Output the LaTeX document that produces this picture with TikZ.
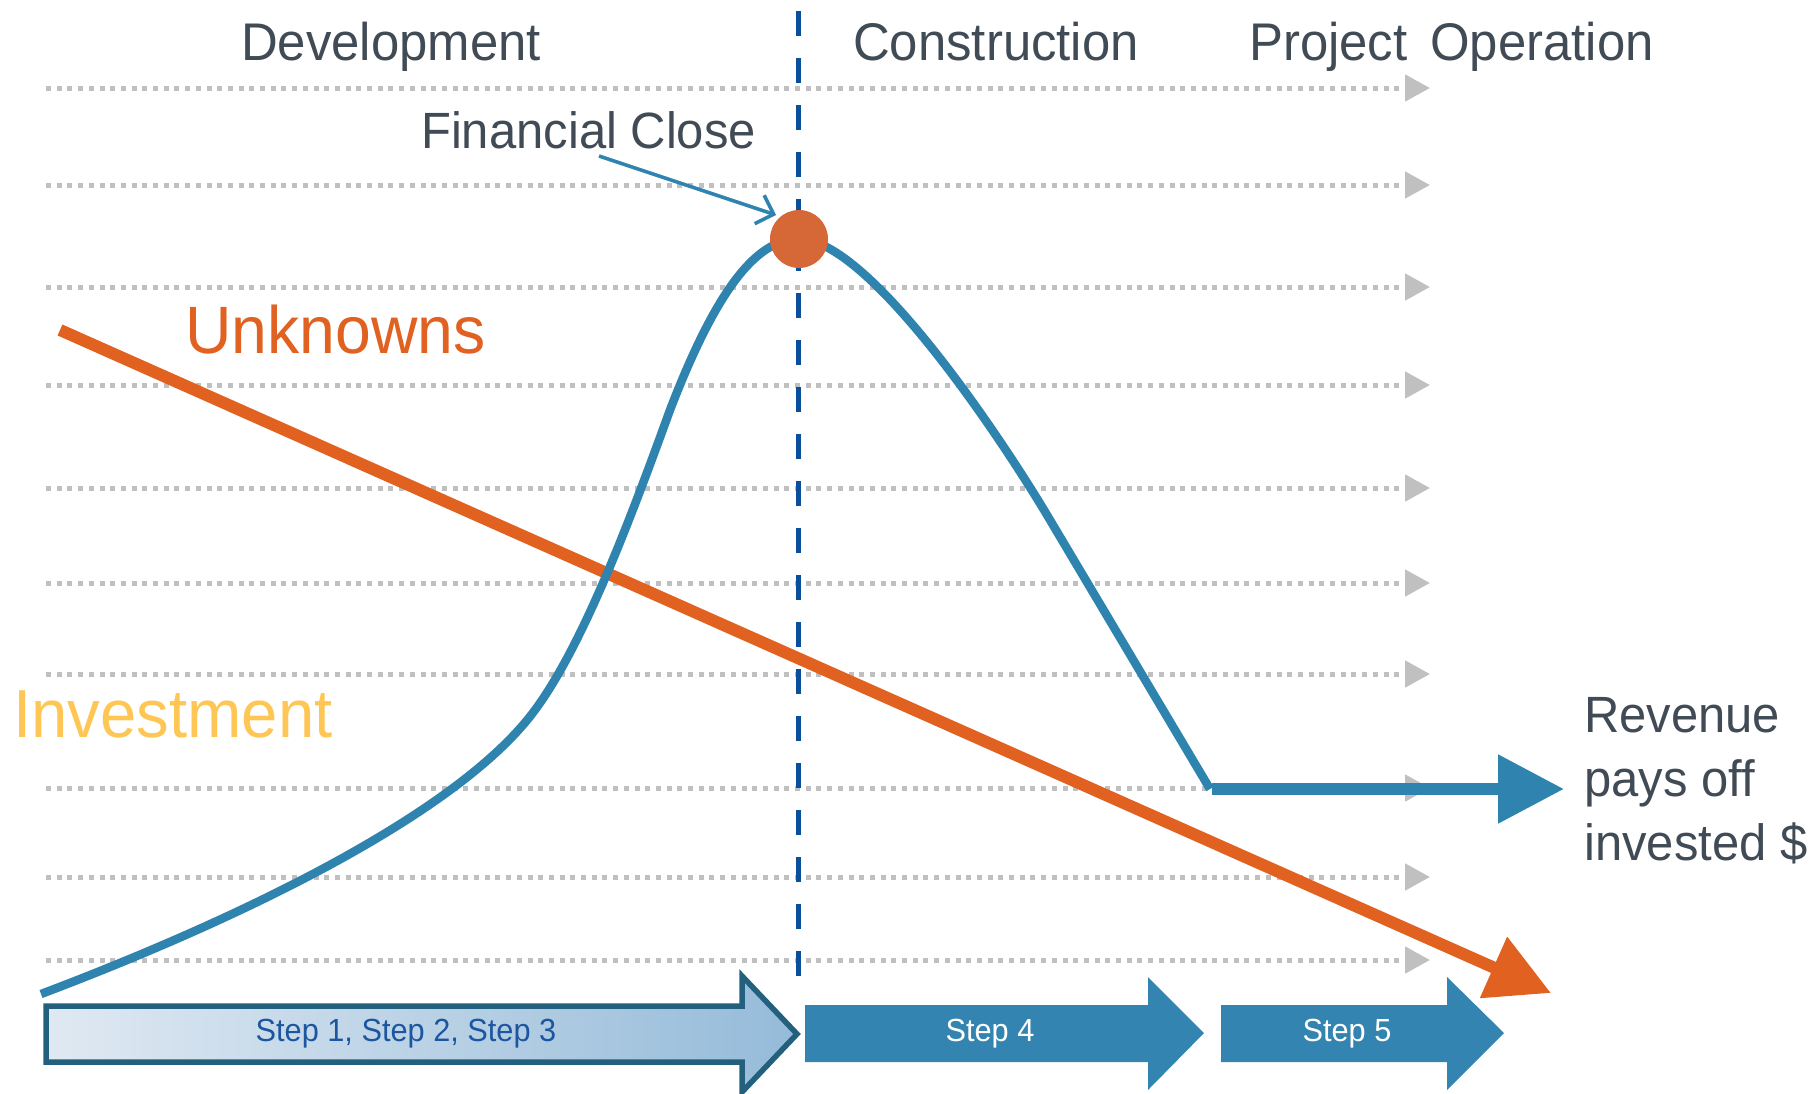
\documentclass[tikz,border=0pt]{standalone}
\usepackage{fontspec}
\setmainfont[FakeStretch=0.96]{Liberation Sans}
\usetikzlibrary{arrows.meta}
\definecolor{txtgray}{HTML}{414B55}
\definecolor{bluecol}{RGB}{46,132,174}
\definecolor{orangecol}{RGB}{224,97,32}
\definecolor{circlecol}{RGB}{214,103,54}
\definecolor{yellowcol}{RGB}{254,199,85}
\definecolor{dashblue}{RGB}{10,79,156}
\definecolor{stepfill}{RGB}{51,132,176}
\definecolor{stepborder}{RGB}{35,96,126}
\definecolor{gradleft}{RGB}{224,233,242}
\definecolor{gradright}{RGB}{149,187,217}
\definecolor{steptxt}{RGB}{28,86,160}
\definecolor{gridgray}{RGB}{192,192,192}
\begin{document}
\begin{tikzpicture}[x=1pt,y=-1pt,
  lbl/.style={inner sep=0pt, text=txtgray},
  gridline/.style={draw=gridgray, line width=5pt, dash pattern=on 5pt off 5.7pt,
    -{Triangle[length=25pt,width=26pt,fill=gridgray]}},
  phaseline/.style={draw=dashblue, line width=5pt, dash pattern=on 25pt off 22pt},
  unkline/.style={draw=orangecol, line width=12pt,
    -{Triangle[length=63pt,width=64pt,fill=orangecol]}},
  invcurve/.style={draw=bluecol, line width=8.5pt, line join=round},
  invarrow/.style={draw=bluecol, line width=12pt,
    -{Triangle[length=66pt,width=66pt,fill=bluecol]}},
  fcarrow/.style={draw=bluecol, line width=3.5pt, -{Straight Barb[length=15pt,width=30pt]}},
  stepone/.style={draw=stepborder, line width=5.5pt, left color=gradleft, right color=gradright},
  stepbox/.style={fill=stepfill},
  steplabel/.style={inner sep=0pt, anchor=base, font=\fontsize{32}{38}\selectfont}
]
\useasboundingbox (0,0) rectangle (1819,1093);

% grid lines
\foreach \y in {88,185,287,385,488,583,674,788,877,960}{
  \coordinate (gl\y) at (46,\y);
  \coordinate (gr\y) at (1430,\y);
  \draw[gridline] (gl\y) -- (gr\y);
}

% phase titles
\node[lbl, anchor=base west, font=\fontsize{53}{60}\selectfont] (dev) at (241,60) {Development};
\node[lbl, anchor=base west, font=\fontsize{53}{60}\selectfont] (con) at (853,60) {Construction};
\node[lbl, anchor=base west, font=\fontsize{53}{60}\selectfont] (proj) at (1249,60) {Project};
\node[lbl, anchor=base west, font=\fontsize{53}{60}\selectfont] (oper) at (1430,60) {Operation};

% vertical phase line
\coordinate (vt) at (798,11);
\coordinate (vb) at (798,996);
\draw[phaseline] (vt) -- (vb);

% Unknowns line
\coordinate (u0) at (60,330);
\coordinate (u1) at (1551,993);
\draw[unkline] (u0) -- (u1);

% Investment curve
\coordinate (c0) at (41,994);
\coordinate (c1) at (528,719);
\coordinate (c2) at (670,410);
\coordinate (pkc) at (799,239);
\coordinate (c4) at (1050,520);
\coordinate (c5) at (1212,789);
\coordinate (rv) at (1564,789);
\draw[invcurve] (c0) .. controls (250,915) and (450,815) .. (c1)
  .. controls (580,655) and (630,520) .. (c2)
  .. controls (720,280) and (760,239) .. (pkc)
  .. controls (870,239) and (1005,444) .. (c4) -- (1210,789);
\draw[invarrow] (c5) -- (rv);

% financial close
\node[circle, fill=circlecol, minimum size=58pt, inner sep=0pt] (pk) at (pkc) {};
\node[lbl, anchor=base west, font=\fontsize{51}{58}\selectfont] (fc) at (421,148) {Financial Close};
\coordinate (fcs) at (599,156);
\coordinate (fce) at (776,215);
\draw[fcarrow] (fcs) -- (fce);

% labels
\node[inner sep=0pt, anchor=base west, text=orangecol, font=\fontsize{67}{76}\selectfont] (unk) at (185,353) {Unknowns};
\node[inner sep=0pt, anchor=base west, text=yellowcol, font=\fontsize{68}{76}\selectfont] (inv) at (13,737) {Investment};
\node[lbl, anchor=north west, align=left, font=\fontsize{51}{64}\selectfont] (rev) at (1584,697) {Revenue\\pays off\\invested \$};

% step arrows
\path[stepone] (46,1006) -- (742,1006) -- (742,976) -- (797,1034) -- (742,1092) -- (742,1062) -- (46,1062) -- cycle;
\node[steplabel, text=steptxt] (s1) at (406,1041) {Step 1, Step 2, Step 3};
\path[stepbox] (805,1005) -- (1148,1005) -- (1148,977) -- (1204,1033) -- (1148,1090) -- (1148,1062) -- (805,1062) -- cycle;
\node[steplabel, text=white] (s4) at (990,1041) {Step 4};
\path[stepbox] (1221,1005) -- (1447,1005) -- (1447,977) -- (1504,1033) -- (1447,1090) -- (1447,1062) -- (1221,1062) -- cycle;
\node[steplabel, text=white] (s5) at (1347,1041) {Step 5};
\end{tikzpicture}
\end{document}
